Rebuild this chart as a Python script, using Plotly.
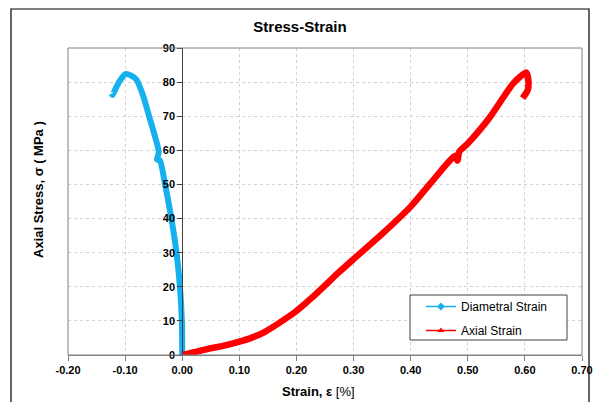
import plotly.graph_objects as go

# Diametral strain (%) vs axial stress (MPa)
diam_strain = [0, -0.0006, -0.004, -0.010, -0.019, -0.030, -0.039, -0.044, -0.041,
               -0.051, -0.058, -0.068, -0.080, -0.0886, -0.0986, -0.106, -0.115, -0.122, -0.124]
diam_stress = [0, 10, 20, 30, 40, 50, 57, 57.3, 59.5,
               66, 70, 75.8, 80.7, 81.8, 82.4, 81.2, 78.7, 76.2, 76.6]

# Axial strain (%) vs axial stress (MPa)
axial_strain = [0, 0.0456, 0.075, 0.10, 0.122, 0.145, 0.168, 0.20, 0.227, 0.25, 0.274,
                0.30, 0.35, 0.40, 0.435, 0.478, 0.482, 0.485, 0.50, 0.521, 0.54,
                0.58, 0.6025, 0.606, 0.605, 0.596]
axial_stress = [0, 1.8, 2.8, 3.9, 5.1, 6.8, 9.2, 12.9, 16.8, 20.4, 24.2,
                28.1, 35.5, 43.5, 50.4, 58.4, 57.0, 59.6, 62.0, 66.0, 70.0,
                79.7, 82.8, 80.6, 77.7, 75.3]

x_ticks = [-0.2, -0.1, 0.0, 0.1, 0.2, 0.3, 0.4, 0.5, 0.6, 0.7]
x_tick_labels = ["-0.20", "-0.10", "0.00", "0.10", "0.20", "0.30", "0.40", "0.50", "0.60", "0.70"]
y_ticks = [0, 10, 20, 30, 40, 50, 60, 70, 80, 90]

BLUE = "#14B1EE"
RED = "#FF0000"
FONT = "Liberation Sans, Arial, sans-serif"

fig = go.Figure()
fig.add_trace(go.Scatter(x=diam_strain, y=diam_stress, mode="lines",
                         line=dict(color=BLUE, width=6, shape="spline", smoothing=0.6),
                         showlegend=False, hoverinfo="skip"))
fig.add_trace(go.Scatter(x=axial_strain, y=axial_stress, mode="lines",
                         line=dict(color=RED, width=6.5, shape="spline", smoothing=0.6),
                         showlegend=False, hoverinfo="skip"))
# legend entries
fig.add_trace(go.Scatter(x=[None], y=[None], mode="lines+markers",
                         name="Diametral Strain", legendgroup="a",
                         line=dict(color=BLUE, width=1.5),
                         marker=dict(symbol="diamond", size=6, color=BLUE)))
fig.add_trace(go.Scatter(x=[None], y=[None], mode="lines+markers", name="Axial Strain",
                         legendgroup="b",
                         line=dict(color=RED, width=1.5),
                         marker=dict(symbol="triangle-up", size=6, color=RED)))

L, R, T, B = 68, 18, 48, 47
W, H = 600, 402
pw, ph = W - L - R, H - T - B

def px(xp):
    return (xp - L) / pw

def py(yp):
    return (H - B - yp) / ph

fig.update_layout(
    width=W, height=H,
    margin=dict(l=L, r=R, t=T, b=B, autoexpand=False),
    paper_bgcolor="white", plot_bgcolor="white",
    font=dict(family=FONT, color="black"),
    title=dict(text="<b>Stress-Strain</b>", x=0.5, xref="container", xanchor="center",
               y=1 - 27 / H, yref="container", yanchor="middle",
               font=dict(size=15, family=FONT)),
    xaxis=dict(range=[-0.2, 0.7], tickvals=x_ticks, ticktext=x_tick_labels,
               showgrid=True, gridcolor="#d2d2d2", griddash="dot", gridwidth=1,
               showline=True, linecolor="#808080", linewidth=1,
               ticks="outside", ticklen=5, tickcolor="#808080",
               tickfont=dict(size=11, family=FONT, color="black", weight="bold"),
               zeroline=False, fixedrange=True),
    yaxis=dict(range=[0, 90], tickvals=y_ticks,
               anchor="free", position=0.2 / 0.9,
               showgrid=True, gridcolor="#d2d2d2", griddash="dot", gridwidth=1,
               showline=True, linecolor="#404040", linewidth=1,
               ticks="outside", ticklen=5, tickcolor="#404040",
               tickfont=dict(size=11, family=FONT, color="black", weight="bold"),
               zeroline=False, fixedrange=True),
    legend=dict(x=px(421), y=py(292), xanchor="left", yanchor="top",
                bgcolor="rgba(0,0,0,0)", borderwidth=0,
                font=dict(size=12, family=FONT, color="black"),
                itemwidth=30, tracegroupgap=5),
    showlegend=True,
)

# plot area border
fig.add_shape(type="rect", xref="paper", yref="paper", x0=0, y0=0, x1=1, y1=1,
              line=dict(color="#808080", width=1), layer="above")
# legend box
fig.add_shape(type="rect", xref="paper", yref="paper",
              x0=px(410), x1=px(567), y0=py(340), y1=py(295),
              line=dict(color="#404040", width=1), fillcolor="white", layer="above")
# outer chart border
fig.add_shape(type="rect", xref="paper", yref="paper",
              x0=px(11), x1=px(589), y0=py(410), y1=py(9),
              line=dict(color="black", width=1.2), layer="below")

fig.add_annotation(text="<b>Axial Stress, σ ( MPa )</b>", xref="paper", yref="paper",
                   x=px(38), y=py(190), textangle=-90, showarrow=False,
                   xanchor="center", yanchor="middle", font=dict(size=13, family=FONT))
fig.add_annotation(text="<b>Strain, ε</b> [%]", xref="paper", yref="paper",
                   x=px(318), y=py(391), showarrow=False,
                   xanchor="center", yanchor="middle", font=dict(size=13, family=FONT))

fig.write_html("out.html", config={"displayModeBar": False},
               post_script="document.body.style.margin='0px';")
